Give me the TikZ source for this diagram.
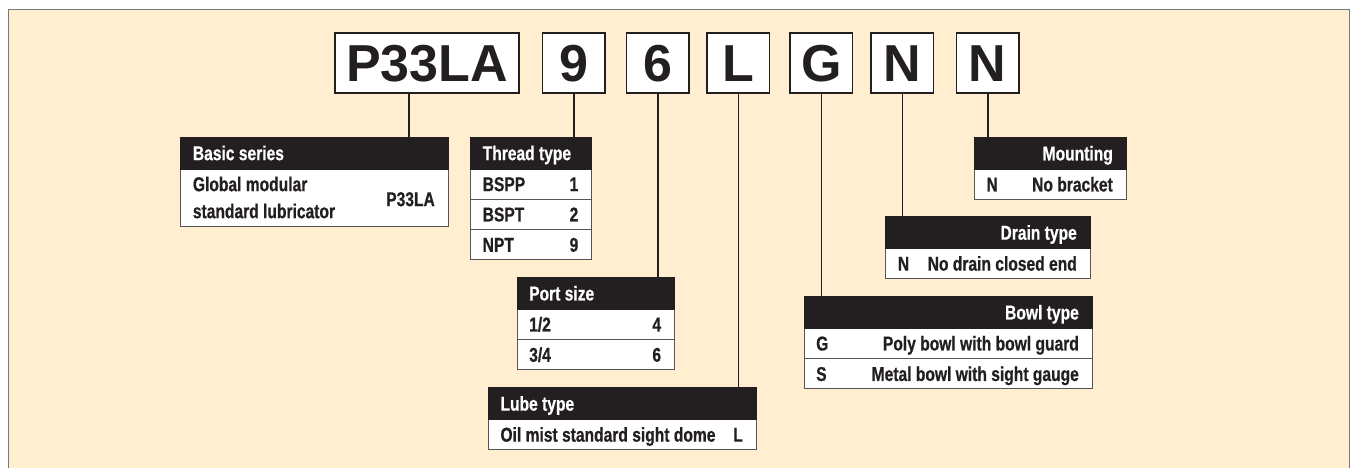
\documentclass[tikz,border=0pt]{standalone}
\usepackage{fontspec}
\setmainfont{Liberation Sans}
\newfontfamily\tabfam[FakeStretch=0.78,FakeBold=0.6]{Liberation Sans}
\definecolor{cream}{RGB}{255,238,207}
\definecolor{ink}{RGB}{35,31,32}
\definecolor{framegray}{RGB}{120,120,120}
\definecolor{rulegray}{RGB}{85,85,85}
\tikzset{
  codebox/.style={draw=ink, line width=1.6pt, fill=white, minimum width=62.5pt, minimum height=60pt,
    inner sep=0pt, outer sep=0pt, anchor=north west,
    font=\bfseries\fontsize{52}{60}\selectfont, text height=37.2pt, text depth=0pt, text=ink},
  hdr/.style={fill=ink, draw=ink, line width=0.8pt, minimum height=32pt, inner sep=0pt, outer sep=0pt, anchor=north west},
  cell/.style={fill=white, draw=rulegray, line width=0.9pt, minimum height=30pt, inner sep=0pt, outer sep=0pt, anchor=north west},
  ct/.style={font=\tabfam\bfseries\fontsize{20}{23}\selectfont, text=ink, inner sep=0pt, text height=14.3pt, text depth=0pt},
  hct/.style={ct, text=white},
  lt/.style={ct, anchor=west},
  rt/.style={ct, anchor=east},
  link/.style={draw=ink, line width=1.5pt},
}
\begin{document}
\begin{tikzpicture}[x=1pt,y=-1pt]
\useasboundingbox (0,0) rectangle (1351,468);
\fill[white] (0,0) rectangle (1351,468);
\fill[cream] (8,9.5) rectangle (1349.5,468);
\draw[framegray, line width=1pt] (8,468) -- (8,9.5) -- (1349.5,9.5) -- (1349.5,468);

% code boxes
\node[codebox, minimum width=184pt] (c1) at (335,33) {P33LA};
\node[codebox] (c2) at (542.5,33) {9};
\node[codebox] (c3) at (626.5,33) {6};
\node[codebox] (c4) at (707,33) {L};
\node[codebox] (c5) at (790,33) {G};
\node[codebox] (c6) at (871,33) {N};
\node[codebox] (c7) at (956.5,33) {N};

% Basic series
\node[cell, minimum width=267.3pt, minimum height=57pt] (basicR) at (180.7,169) {};
\node[hdr, minimum width=267.3pt] (basicH) at (180.7,137) {};
\node[hct, anchor=west] (basicHt) at ([xshift=12pt]basicH.west) {Basic series};
\node[lt] (basicA) at ([xshift=12pt,yshift=13.5pt]basicR.west) {Global modular};
\node[lt] (basicB) at ([xshift=12pt,yshift=-13.5pt]basicR.west) {standard lubricator};
\node[rt] (basicC) at ([xshift=-13pt,yshift=-1.5pt]basicR.east) {P33LA};

% Thread type
\node[cell, minimum width=121pt] (thr1) at (470.5,169) {};
\node[cell, minimum width=121pt] (thr2) at (470.5,199.3) {};
\node[cell, minimum width=121pt] (thr3) at (470.5,229.6) {};
\node[hdr, minimum width=121pt] (thrH) at (470.5,137) {};
\node[hct, anchor=west] (thrHt) at ([xshift=12pt]thrH.west) {Thread type};
\node[lt] (thr1a) at ([xshift=12pt]thr1.west) {BSPP};
\node[rt] (thr1b) at ([xshift=-13pt]thr1.east) {1};
\node[lt] (thr2a) at ([xshift=12pt]thr2.west) {BSPT};
\node[rt] (thr2b) at ([xshift=-13pt]thr2.east) {2};
\node[lt] (thr3a) at ([xshift=12pt]thr3.west) {NPT};
\node[rt] (thr3b) at ([xshift=-13pt]thr3.east) {9};

% Port size
\node[cell, minimum width=157.3pt] (prt1) at (517,309.3) {};
\node[cell, minimum width=157.3pt] (prt2) at (517,339.6) {};
\node[hdr, minimum width=157.3pt] (prtH) at (517,277.3) {};
\node[hct, anchor=west] (prtHt) at ([xshift=12pt]prtH.west) {Port size};
\node[lt] (prt1a) at ([xshift=12pt]prt1.west) {1/2};
\node[rt] (prt1b) at ([xshift=-13pt]prt1.east) {4};
\node[lt] (prt2a) at ([xshift=12pt]prt2.west) {3/4};
\node[rt] (prt2b) at ([xshift=-13pt]prt2.east) {6};

% Lube type
\node[cell, minimum width=267.7pt] (lub1) at (488.3,419.5) {};
\node[hdr, minimum width=267.7pt] (lubH) at (488.3,387.5) {};
\node[hct, anchor=west] (lubHt) at ([xshift=12pt]lubH.west) {Lube type};
\node[lt] (lub1a) at ([xshift=12pt]lub1.west) {Oil mist standard sight dome};
\node[rt] (lub1b) at ([xshift=-13pt]lub1.east) {L};

% Bowl type
\node[cell, minimum width=288pt] (bwl1) at (804,328.3) {};
\node[cell, minimum width=288pt] (bwl2) at (804,358.8) {};
\node[hdr, minimum width=288pt] (bwlH) at (804,296.3) {};
\node[hct, anchor=east] (bwlHt) at ([xshift=-13pt]bwlH.east) {Bowl type};
\node[lt] (bwl1a) at ([xshift=12pt]bwl1.west) {G};
\node[rt] (bwl1b) at ([xshift=-13pt]bwl1.east) {Poly bowl with bowl guard};
\node[lt] (bwl2a) at ([xshift=12pt]bwl2.west) {S};
\node[rt] (bwl2b) at ([xshift=-13pt]bwl2.east) {Metal bowl with sight gauge};

% Drain type
\node[cell, minimum width=204.3pt] (drn1) at (885.7,248.5) {};
\node[hdr, minimum width=204.3pt] (drnH) at (885.7,216.5) {};
\node[hct, anchor=east] (drnHt) at ([xshift=-13pt]drnH.east) {Drain type};
\node[lt] (drn1a) at ([xshift=12pt]drn1.west) {N};
\node[rt] (drn1b) at ([xshift=-13pt]drn1.east) {No drain closed end};

% Mounting
\node[cell, minimum width=151.7pt] (mnt1) at (974.3,169.3) {};
\node[hdr, minimum width=151.7pt] (mntH) at (974.3,137.3) {};
\node[hct, anchor=east] (mntHt) at ([xshift=-13pt]mntH.east) {Mounting};
\node[lt] (mnt1a) at ([xshift=12pt]mnt1.west) {N};
\node[rt] (mnt1b) at ([xshift=-13pt]mnt1.east) {No bracket};

% connectors
\coordinate (k1) at ([xshift=-18pt]c1.south);
\draw[link] (k1) -- (k1 |- basicH.north);
\draw[link] (c2.south) -- (c2.south |- thrH.north);
\draw[link] (c3.south) -- (c3.south |- prtH.north);
\draw[link] (c4.south) -- (c4.south |- lubH.north);
\draw[link] (c5.south) -- (c5.south |- bwlH.north);
\draw[link] (c6.south) -- (c6.south |- drnH.north);
\draw[link] (c7.south) -- (c7.south |- mntH.north);
\end{tikzpicture}
\end{document}
